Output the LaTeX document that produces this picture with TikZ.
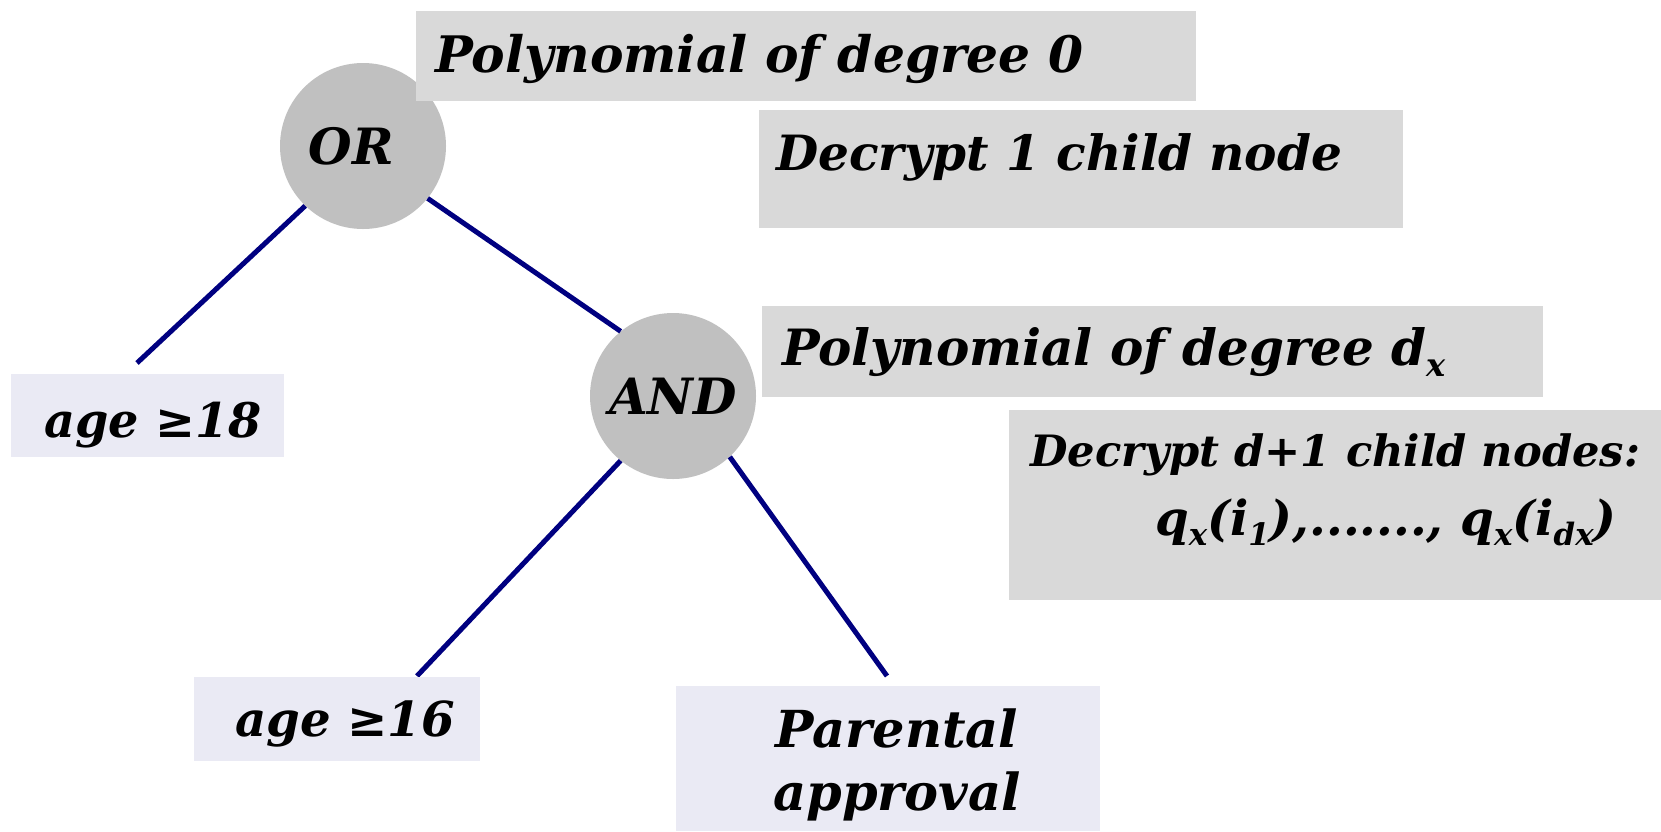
\documentclass[tikz,border=0pt]{standalone}
\usepackage{fontspec}
\setmainfont{DejaVu Serif}
\usepackage{graphicx}
\definecolor{boxgray}{HTML}{D9D9D9}
\definecolor{circgray}{HTML}{C0C0C0}
\definecolor{lav}{HTML}{EAEAF4}
\definecolor{navyline}{HTML}{000080}
\newcommand\lowsub[1]{\raisebox{-0.22em}{\scalebox{0.64}{#1}}}
\begin{document}
\begin{tikzpicture}[x=1pt,y=-1pt,
  lbl/.style={font=\fontsize{#1}{63}\selectfont\bfseries\itshape, inner sep=0pt, anchor=base west},
  lbl/.default=48,
  gate/.style={circle, fill=circgray, minimum size=166pt, inner sep=0pt,
               font=\fontsize{50}{60}\selectfont\bfseries\itshape},
  wire/.style={draw=navyline, line width=5pt}]
\useasboundingbox (0,0) rectangle (1661,831);

% gates
\node[gate] (or) at (363,146) {\hspace*{-24pt}OR};
\node[gate] (and) at (673,396) {AND};

% free ends of connectors
\coordinate (c18) at (137,363);
\coordinate (c16) at (417,676);
\coordinate (cpa) at (887,676);

\draw[wire] (or.-134.5) -- (c18);
\draw[wire] (or.-39.6) -- (and.129);
\draw[wire] (and.-129.5) -- (c16);
\draw[wire] (and.-47.3) -- (cpa);

% boxes
\fill[boxgray] (416,11) rectangle (1196,101);
\fill[boxgray] (759,110) rectangle (1403,228);
\fill[boxgray] (762,306) rectangle (1543,397);
\fill[boxgray] (1009,410) rectangle (1661,600);
\fill[lav] (11,374) rectangle (284,457);
\fill[lav] (194,677) rectangle (480,761);
\fill[lav] (676,686) rectangle (1100,831);

% texts
\node[lbl=50.3] (t1) at (435,72) {Polynomial of degree 0};
\node[lbl=48.6] (t2) at (776,170) {Decrypt 1 child node};
\node[lbl=50] (t3) at (782,365) {Polynomial of degree d\lowsub{x}};
\node[lbl=43.2] (t4) at (1030,466) {Decrypt d+1 child nodes:};
\node[lbl=48.2] (t5) at (1155,535) {q\lowsub{x}(i\lowsub{1}),......., q\lowsub{x}(i\lowsub{dx})};
\node[lbl=47.7] (t6) at (44,437) {age ≥18};
\node[lbl=48.2] (t7) at (235,736) {age ≥16};
\node[lbl=51, anchor=base, align=center] (t8) at (897,810) {Parental\\approval};
\end{tikzpicture}
\end{document}
